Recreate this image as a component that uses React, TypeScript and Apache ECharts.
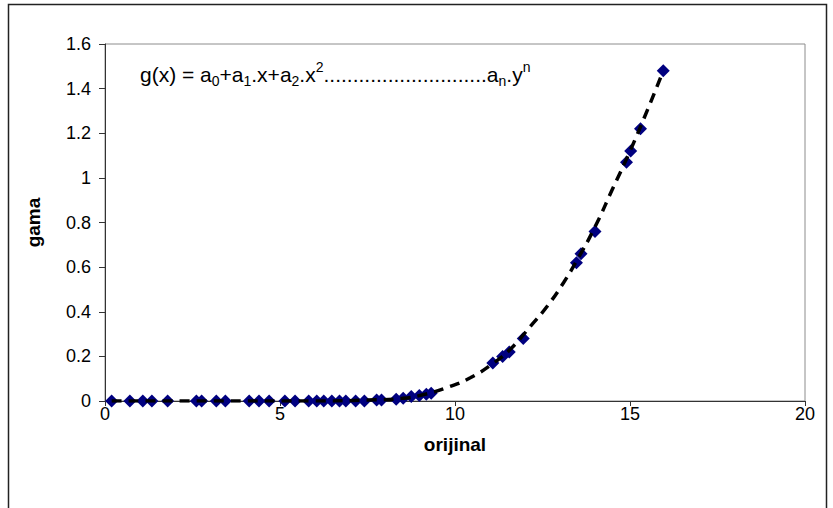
import React, { useEffect, useRef } from "react";
import * as echarts from "echarts";

const xValues = [
  0.19, 0.71, 1.08, 1.34, 1.79, 2.61, 2.76, 3.18, 3.44, 4.12, 4.4, 4.69, 5.14, 5.43,
  5.82, 6.05, 6.25, 6.48, 6.7, 6.88, 7.16, 7.41, 7.76, 7.9, 8.32, 8.52, 8.75, 8.98,
  9.18, 9.32, 11.08, 11.36, 11.55, 11.95, 13.47, 13.6, 14.0, 14.9, 15.02, 15.3, 15.95,
];
const yValues = [
  0, 0, 0, 0, 0, 0, 0, 0, 0, 0, 0, 0, 0, 0,
  0, 0, 0, 0, 0, 0, 0, 0, 0.004, 0.005, 0.008, 0.012, 0.02, 0.025,
  0.03, 0.035, 0.17, 0.2, 0.22, 0.28, 0.62, 0.66, 0.76, 1.07, 1.12, 1.22, 1.48,
];

const trendX = [0.19, 3, 6, 7.5, 8.5, 9.14, 9.8, 10.45, 11.1, 11.6, 12.16, 12.64, 13.1, 13.5, 14.0, 14.5, 15.0, 15.5, 15.95];
const trendY = [0, 0, 0, 0.004, 0.012, 0.03, 0.062, 0.105, 0.17, 0.235, 0.336, 0.426, 0.53, 0.635, 0.78, 0.95, 1.12, 1.305, 1.48];

const xTicks = { min: 0, max: 20, interval: 5 };
const yTicks = { min: 0, max: 1.6, interval: 0.2 };

const xName = "orijinal";
const yName = "gama";
const equationDots = "............................";

export default function App() {
  const ref = useRef<HTMLDivElement>(null);
  useEffect(() => {
    if (!ref.current) return;
    const chart = echarts.init(ref.current, null, { renderer: "svg" });
    const font = "Liberation Sans, Arial, sans-serif";
    chart.setOption({
      animation: false,
      backgroundColor: "#fff",
      grid: {
        left: 105,
        top: 44,
        right: 28,
        bottom: 107,
        show: true,
        borderColor: "#8c8c8c",
        borderWidth: 1,
        backgroundColor: "transparent",
      },
      xAxis: {
        type: "value",
        min: xTicks.min,
        max: xTicks.max,
        interval: xTicks.interval,
        name: xName,
        nameLocation: "middle",
        nameGap: 34,
        nameTextStyle: { fontFamily: font, fontSize: 19, fontWeight: "bold", color: "#000" },
        axisLine: { show: true, lineStyle: { color: "#333", width: 1 } },
        axisTick: { show: true, length: 5, lineStyle: { color: "#333" } },
        axisLabel: { fontFamily: font, fontSize: 18, color: "#000", margin: 4 },
        splitLine: { show: false },
      },
      yAxis: {
        type: "value",
        min: yTicks.min,
        max: yTicks.max,
        interval: yTicks.interval,
        name: yName,
        nameLocation: "middle",
        nameRotate: 90,
        nameGap: 62,
        nameTextStyle: { fontFamily: font, fontSize: 19, fontWeight: "bold", color: "#000" },
        axisLine: { show: true, lineStyle: { color: "#333", width: 1 } },
        axisTick: { show: true, length: 6, lineStyle: { color: "#333" } },
        axisLabel: {
          fontFamily: font,
          fontSize: 18,
          color: "#000",
          margin: 14,
          formatter: (v: number) => String(Number(v.toFixed(1))),
        },
        splitLine: { show: false },
      },
      graphic: [
        {
          type: "rect",
          shape: { x: 8.5, y: 4.5, width: 818, height: 530 },
          style: { fill: "none", stroke: "#222", lineWidth: 1.5 },
          silent: true,
          z: -10,
        },
        {
          type: "text",
          left: 140,
          top: 60,
          style: {
            text:
              "{n|g(x) = a}{sub|0}{n|+a}{sub|1}{n|.x+a}{sub|2}{n|.x}{sup|2}{n|" +
              equationDots +
              "a}{sub|n}{n|.y}{sup|n}",
            rich: {
              n: { fontFamily: font, fontSize: 21, color: "#000", lineHeight: 28, verticalAlign: "middle" },
              sub: { fontFamily: font, fontSize: 14, color: "#000", lineHeight: 14, verticalAlign: "bottom" },
              sup: { fontFamily: font, fontSize: 14, color: "#000", lineHeight: 14, verticalAlign: "top" },
            },
          },
          z: 10,
        },
      ],
      series: [
        {
          type: "scatter",
          data: xValues.map((x, i) => [x, yValues[i]]),
          symbol: "diamond",
          symbolSize: 13,
          itemStyle: { color: "#000080", opacity: 1 },
          z: 2,
        },
        {
          type: "line",
          data: trendX.map((x, i) => [x, trendY[i]]),
          smooth: 0.5,
          showSymbol: false,
          symbol: "none",
          lineStyle: { color: "#000", width: 3.5, type: [10, 7] },
          z: 3,
        },
      ],
    });
    return () => chart.dispose();
  }, []);
  return (
    <div
      ref={ref}
      style={{ position: "absolute", left: 0, top: 0, width: 833, height: 508 }}
    />
  );
}
